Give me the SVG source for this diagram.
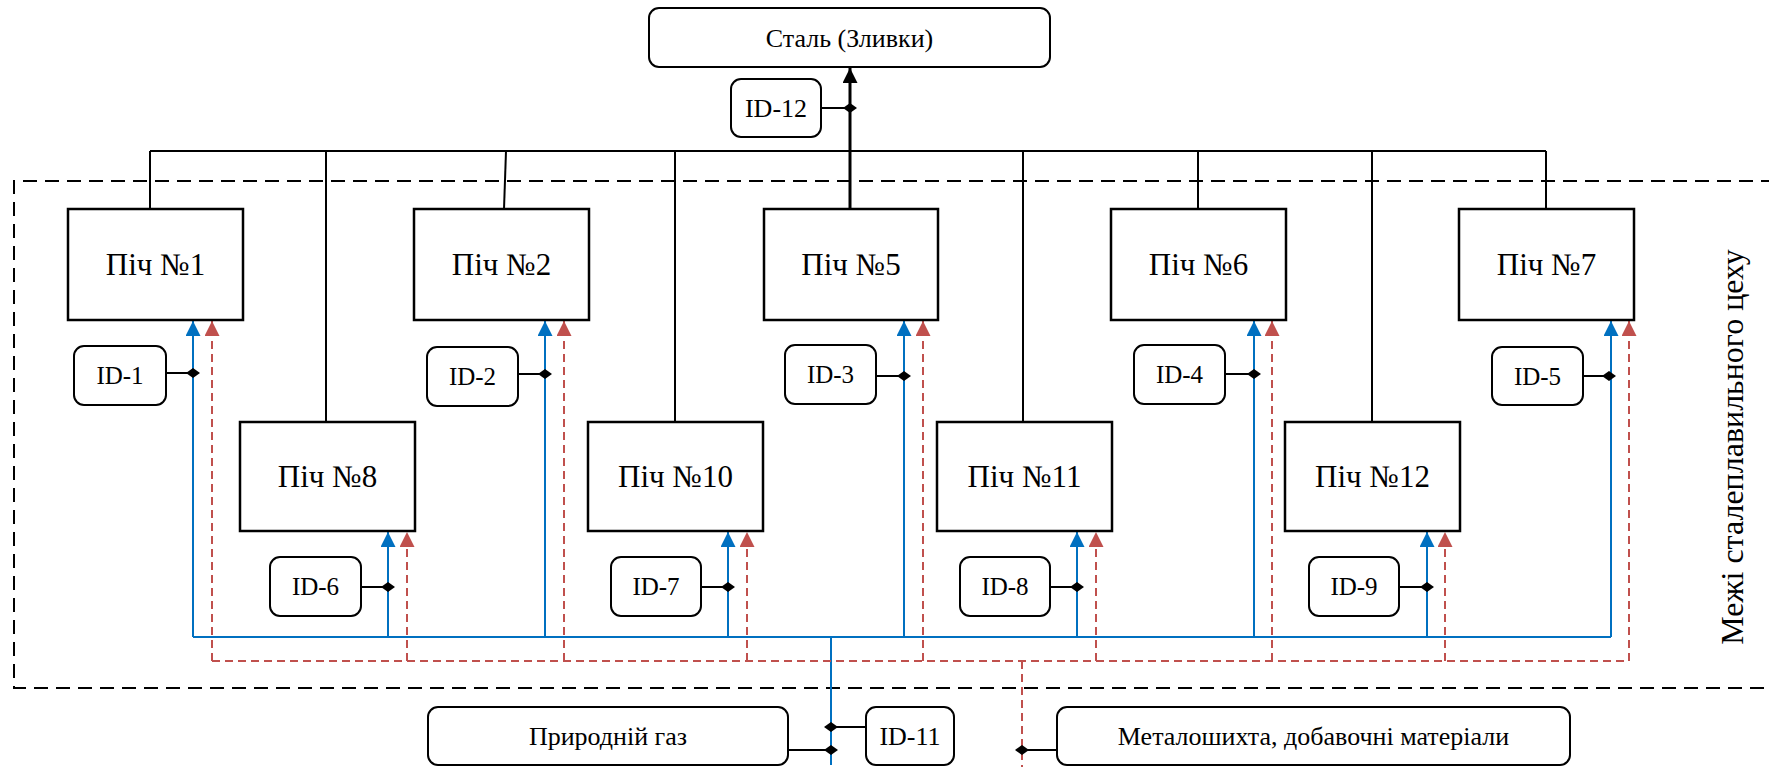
<svg xmlns="http://www.w3.org/2000/svg" width="1769" height="778" viewBox="0 0 1769 778">
<defs>
<style>
.furn{fill:#fff;stroke:#000;stroke-width:2.5}
.idb{fill:#fff;stroke:#000;stroke-width:2}
.big{fill:#fff;stroke:#000;stroke-width:2}
text{font-family:'Liberation Serif','Times New Roman',serif;fill:#000;text-anchor:middle}
.ft{font-size:31px}
.it{font-size:25px}
.it2{font-size:26px}
.bt{font-size:26px}
.vt{font-size:32px}
.blk{stroke:#000;stroke-width:2;fill:none}
.blue{stroke:#0070C0;stroke-width:2;fill:none}
.red{stroke:#C0504D;stroke-width:2;fill:none;stroke-dasharray:8 5}
.bord{stroke:#000;stroke-width:2;fill:none;stroke-dasharray:14 8}
.dia{fill:#000}
</style>
<marker id="ab" viewBox="0 0 10 10" refX="10" refY="5" markerUnits="userSpaceOnUse" markerWidth="15" markerHeight="15" orient="auto"><path d="M0,0 L10,5 L0,10 z" fill="#0070C0"/></marker>
<marker id="ar" viewBox="0 0 10 10" refX="10" refY="5" markerUnits="userSpaceOnUse" markerWidth="15" markerHeight="15" orient="auto"><path d="M0,0 L10,5 L0,10 z" fill="#C0504D"/></marker>
<marker id="ak" viewBox="0 0 10 10" refX="10" refY="5" markerUnits="userSpaceOnUse" markerWidth="15" markerHeight="15" orient="auto"><path d="M0,0 L10,5 L0,10 z" fill="#000"/></marker>
</defs>

<g id="boundary">
<path class="bord" d="M1775,181 H14 V688 H1775"/>
<text class="vt" transform="translate(1743,447) rotate(-90)">Межі сталеплавильного цеху</text>
</g>

<g id="connectors">
<path class="blk" d="M150,151 H1546"/>
<path class="blk" d="M150,151 V209"/>
<path class="blk" d="M326,151 V422"/>
<path class="blk" d="M506,151 L504,209"/>
<path class="blk" d="M675,151 V422"/>
<path class="blk" d="M1023,151 V422"/>
<path class="blk" d="M1198,151 V209"/>
<path class="blk" d="M1372,151 V422"/>
<path class="blk" d="M1546,151 V209"/>
<path d="M850,209 V68" stroke="#000" stroke-width="3" fill="none" marker-end="url(#ak)"/>
<path class="blk" d="M821,108 H850"/>
<polygon class="dia" points="843,108 850,103 857,108 850,113"/>

<path class="blue" d="M193,637 H1611"/>
<path class="blue" d="M831,637 V765"/>
<path class="blue" d="M193,637 V321" marker-end="url(#ab)"/>
<path class="blue" d="M545,637 V321" marker-end="url(#ab)"/>
<path class="blue" d="M904,637 V321" marker-end="url(#ab)"/>
<path class="blue" d="M1254,637 V321" marker-end="url(#ab)"/>
<path class="blue" d="M1611,637 V321" marker-end="url(#ab)"/>
<path class="blue" d="M388,637 V532" marker-end="url(#ab)"/>
<path class="blue" d="M728,637 V532" marker-end="url(#ab)"/>
<path class="blue" d="M1077,637 V532" marker-end="url(#ab)"/>
<path class="blue" d="M1427,637 V532" marker-end="url(#ab)"/>

<path class="red" d="M212,661 H1629"/>
<path class="red" d="M1022,661 V767"/>
<path class="red" d="M212,661 V321" marker-end="url(#ar)"/>
<path class="red" d="M564,661 V321" marker-end="url(#ar)"/>
<path class="red" d="M923,661 V321" marker-end="url(#ar)"/>
<path class="red" d="M1272,661 V321" marker-end="url(#ar)"/>
<path class="red" d="M1629,661 V321" marker-end="url(#ar)"/>
<path class="red" d="M407,661 V532" marker-end="url(#ar)"/>
<path class="red" d="M747,661 V532" marker-end="url(#ar)"/>
<path class="red" d="M1096,661 V532" marker-end="url(#ar)"/>
<path class="red" d="M1445,661 V532" marker-end="url(#ar)"/>

<path class="blk" d="M166,373 H193"/><polygon class="dia" points="186,373 193,368 200,373 193,378"/>
<path class="blk" d="M518,374 H545"/><polygon class="dia" points="538,374 545,369 552,374 545,379"/>
<path class="blk" d="M876,376 H904"/><polygon class="dia" points="897,376 904,371 911,376 904,381"/>
<path class="blk" d="M1225,374 H1254"/><polygon class="dia" points="1247,374 1254,369 1261,374 1254,379"/>
<path class="blk" d="M1583,376 H1609"/><polygon class="dia" points="1602,376 1609,371 1616,376 1609,381"/>
<path class="blk" d="M361,587 H388"/><polygon class="dia" points="381,587 388,582 395,587 388,592"/>
<path class="blk" d="M701,587 H728"/><polygon class="dia" points="721,587 728,582 735,587 728,592"/>
<path class="blk" d="M1050,587 H1077"/><polygon class="dia" points="1070,587 1077,582 1084,587 1077,592"/>
<path class="blk" d="M1399,587 H1427"/><polygon class="dia" points="1420,587 1427,582 1434,587 1427,592"/>
<path class="blk" d="M866,727 H831"/><polygon class="dia" points="824,727 831,722 838,727 831,732"/>
<path class="blk" d="M788,750 H831"/><polygon class="dia" points="824,750 831,745 838,750 831,755"/>
<path class="blk" d="M1057,750 H1022"/><polygon class="dia" points="1015,750 1022,745 1029,750 1022,755"/>
</g>

<g id="steel"><rect class="big" x="649" y="8" width="401" height="59" rx="10"/><text class="bt" x="849.5" y="47">Сталь (Зливки)</text></g>
<g id="id12"><rect class="idb" x="731" y="79" width="90" height="58" rx="10"/><text class="it2" x="776" y="117">ID-12</text></g>

<g id="furnace1"><rect class="furn" x="68" y="209" width="175" height="111"/><text class="ft" x="155.5" y="275">Піч №1</text></g>
<g id="furnace2"><rect class="furn" x="414" y="209" width="175" height="111"/><text class="ft" x="501.5" y="275">Піч №2</text></g>
<g id="furnace5"><rect class="furn" x="764" y="209" width="174" height="111"/><text class="ft" x="851" y="275">Піч №5</text></g>
<g id="furnace6"><rect class="furn" x="1111" y="209" width="175" height="111"/><text class="ft" x="1198.5" y="275">Піч №6</text></g>
<g id="furnace7"><rect class="furn" x="1459" y="209" width="175" height="111"/><text class="ft" x="1546.5" y="275">Піч №7</text></g>
<g id="furnace8"><rect class="furn" x="240" y="422" width="175" height="109"/><text class="ft" x="327.5" y="487">Піч №8</text></g>
<g id="furnace10"><rect class="furn" x="588" y="422" width="175" height="109"/><text class="ft" x="675.5" y="487">Піч №10</text></g>
<g id="furnace11"><rect class="furn" x="937" y="422" width="175" height="109"/><text class="ft" x="1024.5" y="487">Піч №11</text></g>
<g id="furnace12"><rect class="furn" x="1285" y="422" width="175" height="109"/><text class="ft" x="1372.5" y="487">Піч №12</text></g>

<g id="id1"><rect class="idb" x="74" y="346" width="92" height="59" rx="10"/><text class="it" x="120" y="384">ID-1</text></g>
<g id="id2"><rect class="idb" x="427" y="347" width="91" height="59" rx="10"/><text class="it" x="472.5" y="385">ID-2</text></g>
<g id="id3"><rect class="idb" x="785" y="345" width="91" height="59" rx="10"/><text class="it" x="830.5" y="383">ID-3</text></g>
<g id="id4"><rect class="idb" x="1134" y="345" width="91" height="59" rx="10"/><text class="it" x="1179.5" y="383">ID-4</text></g>
<g id="id5"><rect class="idb" x="1492" y="347" width="91" height="58" rx="10"/><text class="it" x="1537.5" y="385">ID-5</text></g>
<g id="id6"><rect class="idb" x="270" y="557" width="91" height="59" rx="10"/><text class="it" x="315.5" y="595">ID-6</text></g>
<g id="id7"><rect class="idb" x="611" y="557" width="90" height="59" rx="10"/><text class="it" x="656" y="595">ID-7</text></g>
<g id="id8"><rect class="idb" x="960" y="557" width="90" height="59" rx="10"/><text class="it" x="1005" y="595">ID-8</text></g>
<g id="id9"><rect class="idb" x="1309" y="557" width="90" height="59" rx="10"/><text class="it" x="1354" y="595">ID-9</text></g>

<g id="gas"><rect class="big" x="428" y="707" width="360" height="58" rx="10"/><text class="bt" x="608" y="745">Природній газ</text></g>
<g id="id11"><rect class="idb" x="866" y="707" width="88" height="58" rx="10"/><text class="it2" x="910" y="745">ID-11</text></g>
<g id="materials"><rect class="big" x="1057" y="707" width="513" height="58" rx="10"/><text class="bt" x="1313.5" y="745">Металошихта, добавочні матеріали</text></g>
</svg>
